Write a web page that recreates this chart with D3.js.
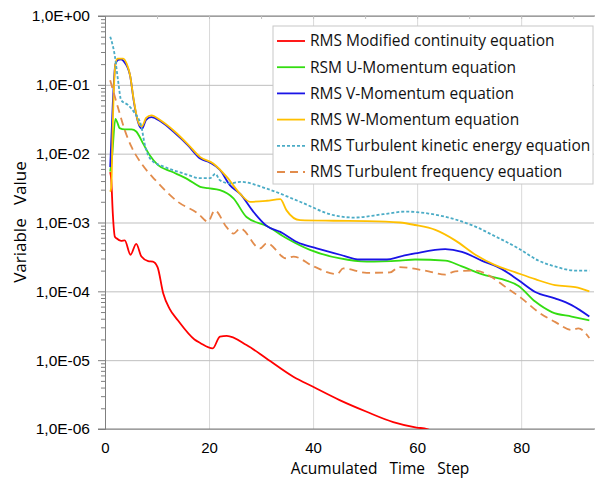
<!DOCTYPE html>
<html>
<head>
<meta charset="utf-8">
<script src="https://cdn.jsdelivr.net/npm/d3@7"></script>
<style>
  body { margin: 0; background: #fff; }
  svg { display: block; font-family: "Open Sans", sans-serif; }
</style>
</head>
<body>
<div id="chart"></div>
<script>
// data: [time step, value]
var continuity = [[1.0,5.4e-3],[1.2,4.2e-3],[1.5,1.35e-3],[1.9,6.2e-4],[2.2,5.9e-4],[3.1,5.4e-4],[3.8,5.5e-4],
  [4.9,3.4e-4],[6.0,4.9e-4],[7.0,3.2e-4],[8.3,2.75e-4],[9.2,2.7e-4],[10.1,2.25e-4],[11.2,9.3e-5],[12.4,5.6e-5],
  [14.0,3.8e-5],[17.2,2.0e-5],[18.3,1.78e-5],[20.7,1.48e-5],[22.1,2.2e-5],[23.4,2.25e-5],[27.2,1.66e-5],
  [31.1,1.05e-5],[36.2,5.75e-6],[40.0,4.1e-6],[45.1,2.63e-6],[50.3,1.78e-6],[55.4,1.26e-6],[59.9,1.05e-6],
  [61.9,1.0e-6],[63.0,9.2e-7]];
var uMomentum = [[1.0,5.5e-3],[1.3,8e-3],[2.0,3.2e-2],[2.4,2.8e-2],[2.8,2.35e-2],[3.8,2.25e-2],[5.1,2.25e-2],
  [6.0,2.1e-2],[7.3,1.41e-2],[8.6,9.5e-3],[10.2,6.8e-3],[12.75,5.5e-3],[16.0,4.2e-3],[18.3,3.3e-3],[19.8,3.15e-3],
  [22.1,2.95e-3],[24.7,2.24e-3],[27.2,1.2e-3],[31.1,8.9e-4],[34.9,5.9e-4],[39.4,4.0e-4],[45.2,3.0e-4],
  [50.3,2.7e-4],[56.7,2.8e-4],[59.6,2.9e-4],[65.4,2.8e-4],[68.6,2.3e-4],[72.4,1.78e-4],[76.3,1.5e-4],
  [79.5,1.2e-4],[82.7,7.1e-5],[85.9,5.0e-5],[89.7,4.3e-5],[93.1,3.8e-5]];
var vMomentum = [[1.0,6.4e-3],[1.5,5.4e-2],[2.0,0.2],[2.5,0.23],[3.1,0.235],[3.6,0.22],[4.8,0.139],[5.5,0.06],
  [6.1,0.034],[6.7,0.0245],[7.1,0.023],[7.9,0.031],[8.9,0.034],[10.8,0.029],[13.4,0.020],[15.9,0.0133],
  [18.3,8.5e-3],[20.2,7.4e-3],[22.1,5.8e-3],[24.0,3.5e-3],[26.0,2.6e-3],[28.5,1.44e-3],[31.1,8.9e-4],
  [33.7,7.3e-4],[36.9,5.2e-4],[40.7,4.2e-4],[45.2,3.4e-4],[49.0,2.9e-4],[54.2,2.9e-4],[56.7,3.2e-4],
  [59.6,3.55e-4],[65.4,4.1e-4],[68.6,3.75e-4],[72.4,2.8e-4],[76.3,2.1e-4],[79.5,1.45e-4],[82.7,9.8e-5],
  [86.5,7.9e-5],[89.7,6.3e-5],[93.1,4.3e-5]];
var wMomentum = [[1.0,2.8e-3],[1.2,3.2e-3],[1.5,2.8e-2],[2.0,0.2],[2.4,0.24],[3.5,0.24],[4.2,0.2],[4.8,0.14],
  [5.5,0.062],[6.1,0.035],[6.7,0.026],[7.1,0.025],[7.9,0.033],[8.9,0.036],[10.8,0.030],[13.4,0.021],
  [15.9,0.0138],[18.3,8.9e-3],[20.8,7.2e-3],[23.4,4.6e-3],[26.0,2.6e-3],[27.9,2.0e-3],[31.1,2.07e-3],
  [33.7,2.18e-3],[34.9,1.5e-3],[37.5,1.08e-3],[43.9,1.06e-3],[50.3,1.05e-3],[56.7,1.0e-3],[59.6,9.2e-4],
  [63.5,7.8e-4],[67.3,5.5e-4],[71.2,3.4e-4],[75.0,2.4e-4],[78.8,1.9e-4],[82.7,1.5e-4],[86.5,1.23e-4],
  [90.4,1.15e-4],[93.1,1.0e-4]];
var kinetic = [[1.0,0.5],[1.2,0.45],[1.9,0.26],[2.5,0.117],[3.1,0.06],[4.4,0.051],[5.7,0.039],[7.0,0.0245],
  [7.6,0.0141],[8.9,8.1e-3],[11.5,6.4e-3],[15.3,5.1e-3],[18.3,4.4e-3],[20.2,4.4e-3],[21.2,5.1e-3],[22.1,4.1e-3],
  [24.0,3.7e-3],[26.0,3.9e-3],[31.1,3.1e-3],[37.5,2.0e-3],[43.9,1.28e-3],[47.8,1.18e-3],[53.5,1.32e-3],
  [57.7,1.44e-3],[62.2,1.35e-3],[67.3,1.11e-3],[71.2,8.7e-4],[75.0,6.3e-4],[79.5,4.2e-4],[83.3,2.8e-4],
  [86.5,2.3e-4],[90.4,2.0e-4],[93.1,2.0e-4]];
var frequency = [[1.0,0.117],[1.9,0.067],[2.8,0.039],[3.8,0.022],[5.1,0.0125],[7.0,7.2e-3],[9.6,4.2e-3],
  [14.0,2.0e-3],[17.9,1.35e-3],[19.8,1.03e-3],[21.1,1.5e-3],[23.3,8.7e-4],[24.7,6.9e-4],[26.0,8.2e-4],
  [29.8,4.2e-4],[31.1,5.0e-4],[34.9,3.0e-4],[36.2,3.2e-4],[40.1,2.3e-4],[44.6,1.78e-4],[45.8,2.15e-4],
  [50.3,1.86e-4],[54.8,1.88e-4],[56.5,2.25e-4],[62.2,1.95e-4],[65.4,1.75e-4],[67.3,1.95e-4],[71.2,2.0e-4],
  [74.4,1.6e-4],[76.9,1.17e-4],[80.1,7.9e-5],[83.3,5.0e-5],[86.5,3.6e-5],[89.7,2.75e-5],[91.0,2.9e-5],
  [93.1,2.1e-5]];

var seriesNames = ["RMS Modified continuity equation", "RSM U-Momentum equation", "RMS V-Momentum equation",
  "RMS W-Momentum equation", "RMS Turbulent kinetic energy equation", "RMS Turbulent frequency equation"];
var xTicks = [0, 20, 40, 60, 80];
var yTicks = [1, 1e-1, 1e-2, 1e-3, 1e-4, 1e-5, 1e-6];

var series = [
  {name: seriesNames[0], data: continuity, color: "#ff0000", dash: null},
  {name: seriesNames[1], data: uMomentum, color: "#33dd11", dash: null},
  {name: seriesNames[2], data: vMomentum, color: "#1a14e6", dash: null},
  {name: seriesNames[3], data: wMomentum, color: "#ffc000", dash: null},
  {name: seriesNames[4], data: kinetic, color: "#4bacc6", dash: "3,2"},
  {name: seriesNames[5], data: frequency, color: "#e28c4c", dash: "8,5"}
];

var W = 595, H = 480;
var pLeft = 105, pRight = 594, pTop = 16, pBottom = 429;

var svg = d3.select("#chart").append("svg")
  .attr("width", W).attr("height", H);

var x = d3.scaleLinear().domain([0, 94]).range([pLeft, pRight]);
var y = d3.scaleLog().domain([1e-6, 1]).range([pBottom, pTop]);

// vertical gridlines
svg.append("g")
  .attr("transform", `translate(0,${pBottom})`)
  .call(d3.axisBottom(x).tickValues(xTicks.filter(function(d) { return d > 0; })).tickSize(-(pBottom - pTop)).tickFormat(""))
  .call(function(g) { g.select(".domain").remove(); })
  .selectAll("line").attr("stroke", "#d9d9d9");

// horizontal gridlines
svg.append("g")
  .attr("transform", `translate(${pLeft},0)`)
  .call(d3.axisLeft(y).tickValues(yTicks).tickSize(-(pRight - pLeft)).tickFormat(""))
  .call(function(g) { g.select(".domain").remove(); })
  .selectAll("line").attr("stroke", "#bfbfbf");

// top border with small ticks every 10
svg.append("line")
  .attr("x1", 98).attr("x2", W).attr("y1", pTop).attr("y2", pTop)
  .attr("stroke", "#7f7f7f");
svg.append("g")
  .attr("transform", `translate(0,${pTop})`)
  .call(d3.axisBottom(x).tickValues(d3.range(10, 91, 10)).tickSize(3).tickFormat(""))
  .call(function(g) { g.select(".domain").remove(); })
  .selectAll("line").attr("stroke", "#bfbfbf");

// minor y ticks
var minor = [];
for (var e = -6; e < 0; e++) {
  for (var m = 2; m <= 9; m++) minor.push(m * Math.pow(10, e));
}
svg.append("g")
  .attr("transform", `translate(${pLeft},0)`)
  .call(d3.axisLeft(y).tickValues(minor).tickSize(4).tickFormat(""))
  .call(function(g) { g.select(".domain").remove(); })
  .selectAll("line").attr("stroke", "#7f7f7f");

// y axis
function fmt(d) {
  var p = Math.round(Math.log10(d));
  return "1,0E" + (p >= 0 ? "+" : "-") + String(Math.abs(p)).padStart(2, "0");
}
var yAxis = svg.append("g")
  .attr("transform", `translate(${pLeft},0)`)
  .call(d3.axisLeft(y).tickValues(yTicks).tickSize(7).tickPadding(8).tickFormat(fmt));
yAxis.select(".domain").attr("stroke", "#7f7f7f");
yAxis.selectAll("line").attr("stroke", "#7f7f7f");
yAxis.selectAll("text").style("font-size", "15.5px").attr("fill", "#000");

// x axis
var xAxis = svg.append("g")
  .attr("transform", `translate(0,${pBottom})`)
  .call(d3.axisBottom(x).tickValues(xTicks).tickSize(0).tickPadding(13));
xAxis.select(".domain").remove();
xAxis.selectAll("text").style("font-size", "15px").attr("fill", "#000");
svg.append("line")
  .attr("x1", 98).attr("x2", W).attr("y1", pBottom).attr("y2", pBottom)
  .attr("stroke", "#7f7f7f");

// curves
svg.append("clipPath").attr("id", "plot")
  .append("rect").attr("x", pLeft).attr("y", pTop).attr("width", pRight - pLeft).attr("height", pBottom - pTop);

var line = d3.line()
  .x(function(d) { return x(d[0]); })
  .y(function(d) { return y(d[1]); })
  .curve(d3.curveMonotoneX);

svg.append("g").attr("clip-path", "url(#plot)")
  .selectAll("path")
  .data(series)
  .enter()
  .append("path")
    .attr("fill", "none")
    .attr("stroke", function(d) { return d.color; })
    .attr("stroke-width", 1.8)
    .attr("stroke-dasharray", function(d) { return d.dash; })
    .attr("d", function(d) { return line(d.data); });

// legend
var legend = svg.append("g");
legend.append("rect")
  .attr("x", 273).attr("y", 26).attr("width", 320).attr("height", 158)
  .attr("fill", "#fff").attr("stroke", "#c8c8c8");
var rows = legend.selectAll(".row")
  .data(series)
  .enter()
  .append("g")
    .attr("transform", function(d, i) { return `translate(0,${41 + i * 26.2})`; });
rows.append("line")
  .attr("x1", 277).attr("x2", 305)
  .attr("stroke", function(d) { return d.color; })
  .attr("stroke-width", 1.8)
  .attr("stroke-dasharray", function(d) { return d.dash; });
rows.append("text")
  .attr("x", 310).attr("dy", "0.35em")
  .style("font-size", "15.5px")
  .attr("fill", "#111")
  .text(function(d) { return d.name; });

// axis titles
svg.append("text")
  .attr("transform", "rotate(-90)")
  .attr("x", -222).attr("y", 20)
  .attr("dy", "0.35em")
  .attr("text-anchor", "middle")
  .style("font-size", "17px")
  .style("white-space", "pre")
  .text("Variable   Value");
svg.append("text")
  .attr("x", 380).attr("y", 469)
  .attr("dy", "0.35em")
  .attr("text-anchor", "middle")
  .style("font-size", "15.5px")
  .style("white-space", "pre")
  .text("Acumulated   Time   Step");
</script>
</body>
</html>
